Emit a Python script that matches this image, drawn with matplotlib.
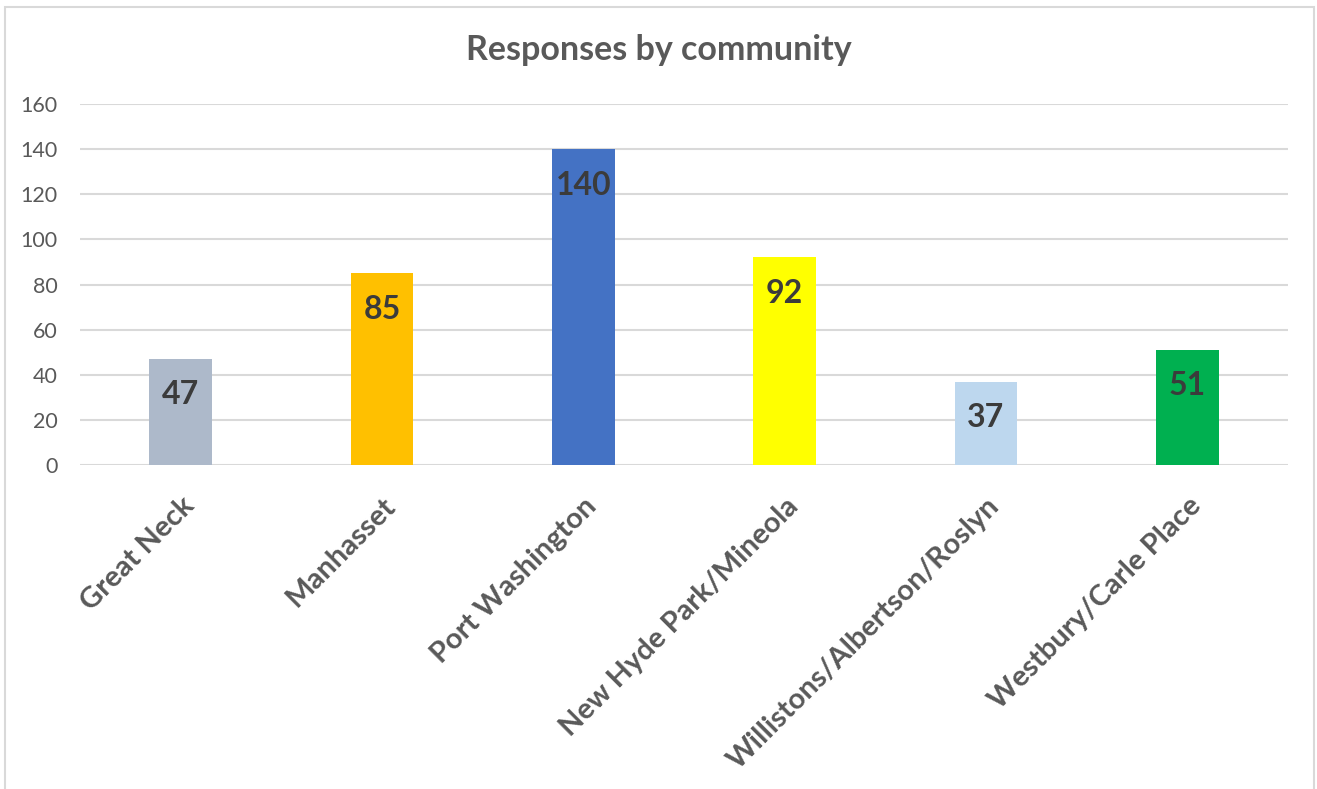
import numpy as np
import matplotlib.pyplot as plt
import matplotlib.patches as patches

# data
communities = ['Great Neck', 'Manhasset', 'Port Washington', 'New Hyde Park/Mineola',
               'Willistons/Albertson/Roslyn', 'Westbury/Carle Place']
responses = [47, 85, 140, 92, 37, 51]
bar_colors = ['#adb9ca', '#ffc000', '#4472c4', '#ffff00', '#bdd7ee', '#00b050']
y_ticks = [0, 20, 40, 60, 80, 100, 120, 140, 160]

plt.rcParams['font.family'] = ['Lato', 'DejaVu Sans']

fig = plt.figure(figsize=(13.17, 7.89), dpi=100)
ax = fig.add_axes([80 / 1317, 1 - 465 / 789, 1208 / 1317, 361 / 789])

# outer chart border
fig.patches.append(patches.Rectangle((5 / 1317, -0.01), 1309 / 1317, 1 - 7 / 789 + 0.01,
                                     transform=fig.transFigure, fill=False,
                                     edgecolor='#d9d9d9', linewidth=1.5))

x = np.arange(len(communities))
bars = ax.bar(x, responses, width=0.31, color=bar_colors, zorder=3)

# value labels inside the top of each bar
for rect, val in zip(bars, responses):
    ax.annotate(str(val), (rect.get_x() + rect.get_width() / 2, val),
                xytext=(0, -36), textcoords='offset pixels',
                ha='center', va='center', fontsize=23, fontweight='bold',
                color='#3b3b3b', zorder=4)

ax.set_xlim(-0.5, len(communities) - 0.5)
ax.set_ylim(0, 160)
ax.set_yticks(y_ticks)
ax.grid(axis='y', color='#d9d9d9', linewidth=1.5, zorder=0)
for s in ax.spines.values():
    s.set_visible(False)

ax.tick_params(axis='y', length=0, pad=16, labelsize=15.5, labelcolor='#595959')
ax.tick_params(axis='x', length=0, pad=20)
ax.set_xticks(x)
ax.set_xticklabels(communities, rotation=45, ha='right', va='top',
                   rotation_mode='anchor', fontsize=21, fontweight='bold',
                   color='#595959')

fig.text(0.5, 1 - 50 / 789, 'Responses by community', ha='center', va='center',
         fontsize=24.5, fontweight='bold', color='#595959')

fig.savefig('out.png', dpi=100)
